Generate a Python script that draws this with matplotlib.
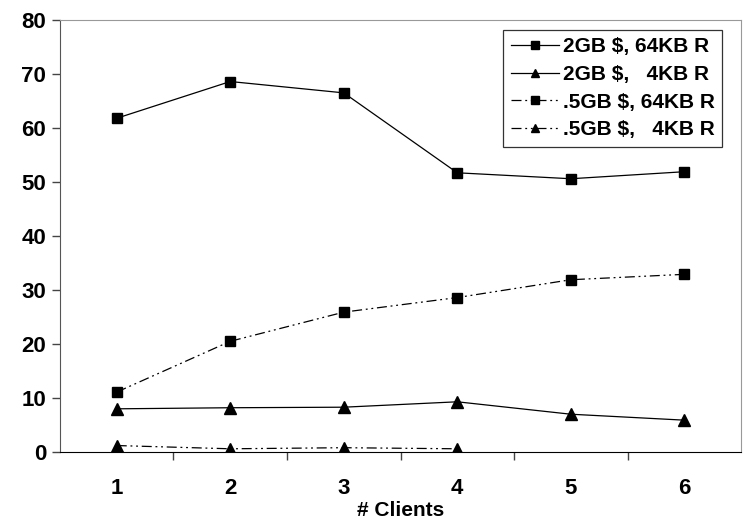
import matplotlib
matplotlib.use("Agg")
import matplotlib.pyplot as plt

# Дані з графіка
clients = [1, 2, 3, 4, 5, 6]
big_64k = [61.8, 68.6, 66.5, 51.7, 50.6, 51.9]
big_4k = [8.0, 8.2, 8.3, 9.3, 7.0, 5.9]
small_64k = [11.1, 20.5, 25.9, 28.6, 31.9, 32.9]
small_4k_clients = [1, 2, 3, 4]
small_4k = [1.2, 0.6, 0.8, 0.6]

labels = ["2GB $, 64KB R", "2GB $,   4KB R", ".5GB $, 64KB R", ".5GB $,   4KB R"]

plt.rcParams['font.family'] = ['Liberation Sans', 'DejaVu Sans']
plt.rcParams['font.weight'] = 'bold'

fig = plt.figure(figsize=(7.46, 5.25), dpi=100)
ax = fig.add_axes([0.0804, 0.139, 0.913, 0.823])

dashdot = (0, (8, 3, 1.5, 3, 1.5, 3))
ax.plot(clients, big_64k, color='black', lw=0.9, marker='s', ms=7, label=labels[0])
ax.plot(clients, big_4k, color='black', lw=0.9, marker='^', ms=8, label=labels[1])
ax.plot(clients, small_64k, color='black', lw=0.9, ls=dashdot, marker='s', ms=7, label=labels[2])
ax.plot(small_4k_clients, small_4k, color='black', lw=0.9, ls=dashdot, marker='^', ms=8, label=labels[3])

ax.set_xlim(0.5, 6.5)
ax.set_ylim(0, 80)
ax.set_yticks(range(0, 81, 10))
ax.set_xticks(clients)
ax.set_xticks([1.5, 2.5, 3.5, 4.5, 5.5], minor=True)
ax.tick_params(axis='x', which='major', length=0, pad=19, labelsize=16)
ax.tick_params(axis='x', which='minor', length=6, width=1, color='#444444')
ax.tick_params(axis='y', length=6, width=1, color='#444444', labelsize=16, pad=4)
ax.set_xlabel("# Clients", fontsize=15, fontweight='bold', labelpad=1)

for s in ['top', 'right']:
    ax.spines[s].set_color('#999999')
ax.spines['left'].set_color('#555555')
ax.spines['bottom'].set_color('black')

leg = ax.legend(loc='upper right', bbox_to_anchor=(0.972, 0.977), borderaxespad=0,
                fontsize=15, frameon=True, fancybox=False, edgecolor='black',
                handlelength=2.3, handletextpad=0.2, borderpad=0.35,
                labelspacing=0.42, markerscale=0.8)
leg.get_frame().set_linewidth(0.9)

plt.savefig("out.png", dpi=100)
